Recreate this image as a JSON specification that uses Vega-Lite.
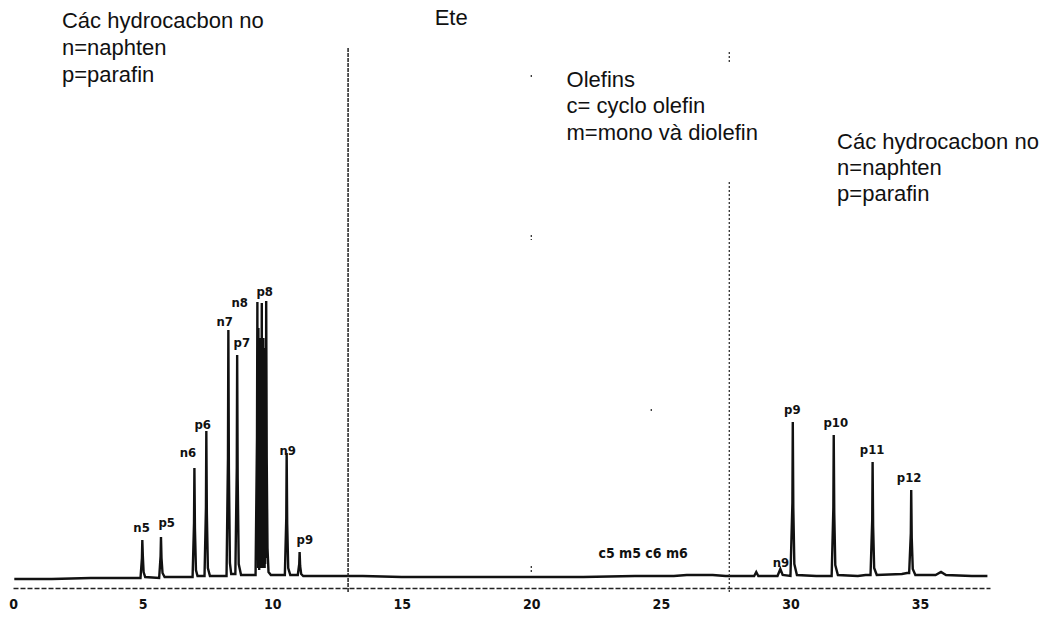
{
  "$schema": "https://vega.github.io/schema/vega-lite/v6.json",
  "autosize": "none",
  "width": 977,
  "height": 588,
  "padding": {"left": 13, "top": 0, "right": 70, "bottom": 30},
  "background": "white",
  "config": {"view": {"stroke": null}},
  "datasets": {
    "chroma": [
      {"t": 0.05, "s": -1}, {"t": 1.5, "s": -1}, {"t": 3.0, "s": 0}, {"t": 4.8, "s": 0},
      {"t": 4.92, "s": 0}, {"t": 4.975, "s": 20}, {"t": 4.99, "s": 38}, {"t": 5.01, "s": 22}, {"t": 5.04, "s": 6}, {"t": 5.1, "s": 1},
      {"t": 5.64, "s": 0}, {"t": 5.695, "s": 22}, {"t": 5.71, "s": 41}, {"t": 5.73, "s": 20}, {"t": 5.77, "s": 5}, {"t": 5.85, "s": 1},
      {"t": 6.5, "s": 1},
      {"t": 6.93, "s": 1}, {"t": 6.985, "s": 55}, {"t": 7.0, "s": 110}, {"t": 7.02, "s": 50}, {"t": 7.06, "s": 8}, {"t": 7.12, "s": 2},
      {"t": 7.39, "s": 2}, {"t": 7.445, "s": 70}, {"t": 7.46, "s": 147}, {"t": 7.48, "s": 65}, {"t": 7.52, "s": 10}, {"t": 7.6, "s": 2},
      {"t": 8.0, "s": 2},
      {"t": 8.24, "s": 2}, {"t": 8.295, "s": 120}, {"t": 8.31, "s": 248}, {"t": 8.33, "s": 110}, {"t": 8.37, "s": 15}, {"t": 8.42, "s": 4},
      {"t": 8.58, "s": 4}, {"t": 8.635, "s": 110}, {"t": 8.65, "s": 223}, {"t": 8.67, "s": 100}, {"t": 8.71, "s": 14}, {"t": 8.8, "s": 3},
      {"t": 9.2, "s": 3},
      {"t": 9.36, "s": 3}, {"t": 9.415, "s": 140}, {"t": 9.43, "s": 276}, {"t": 9.44, "s": 20}, {"t": 9.45, "s": 230}, {"t": 9.46, "s": 10},
      {"t": 9.47, "s": 250}, {"t": 9.48, "s": 15}, {"t": 9.49, "s": 200}, {"t": 9.5, "s": 8}, {"t": 9.51, "s": 240}, {"t": 9.52, "s": 20},
      {"t": 9.53, "s": 190}, {"t": 9.54, "s": 10}, {"t": 9.55, "s": 230}, {"t": 9.56, "s": 15}, {"t": 9.57, "s": 210}, {"t": 9.58, "s": 12},
      {"t": 9.6, "s": 275}, {"t": 9.61, "s": 14}, {"t": 9.62, "s": 220}, {"t": 9.63, "s": 10}, {"t": 9.64, "s": 200}, {"t": 9.65, "s": 18},
      {"t": 9.66, "s": 240}, {"t": 9.67, "s": 12}, {"t": 9.68, "s": 210}, {"t": 9.69, "s": 15}, {"t": 9.7, "s": 190}, {"t": 9.71, "s": 10},
      {"t": 9.72, "s": 230}, {"t": 9.73, "s": 14}, {"t": 9.745, "s": 200}, {"t": 9.755, "s": 20},
      {"t": 9.77, "s": 277}, {"t": 9.79, "s": 120}, {"t": 9.82, "s": 30}, {"t": 9.86, "s": 6}, {"t": 9.95, "s": 3},
      {"t": 10.3, "s": 3},
      {"t": 10.49, "s": 3}, {"t": 10.545, "s": 60}, {"t": 10.56, "s": 125}, {"t": 10.58, "s": 55}, {"t": 10.62, "s": 10}, {"t": 10.7, "s": 3},
      {"t": 10.99, "s": 3}, {"t": 11.045, "s": 14}, {"t": 11.06, "s": 26}, {"t": 11.08, "s": 12}, {"t": 11.12, "s": 4}, {"t": 11.2, "s": 2},
      {"t": 12.0, "s": 2}, {"t": 13.5, "s": 2}, {"t": 15.0, "s": 1}, {"t": 18.0, "s": 1}, {"t": 20.0, "s": 1}, {"t": 22.0, "s": 1},
      {"t": 24.0, "s": 2}, {"t": 25.5, "s": 2}, {"t": 26.0, "s": 3}, {"t": 27.0, "s": 3}, {"t": 27.5, "s": 2}, {"t": 28.3, "s": 2},
      {"t": 28.6, "s": 2}, {"t": 28.68, "s": 6}, {"t": 28.76, "s": 2},
      {"t": 29.3, "s": 2},
      {"t": 29.5, "s": 2}, {"t": 29.61, "s": 9}, {"t": 29.7, "s": 3},
      {"t": 30.0, "s": 2}, {"t": 30.075, "s": 75}, {"t": 30.09, "s": 156}, {"t": 30.11, "s": 70}, {"t": 30.15, "s": 14}, {"t": 30.25, "s": 3},
      {"t": 31.0, "s": 2},
      {"t": 31.59, "s": 2}, {"t": 31.655, "s": 70}, {"t": 31.67, "s": 143}, {"t": 31.69, "s": 65}, {"t": 31.73, "s": 13}, {"t": 31.83, "s": 3},
      {"t": 32.6, "s": 2}, {"t": 32.9, "s": 3},
      {"t": 33.09, "s": 3}, {"t": 33.155, "s": 58}, {"t": 33.17, "s": 116}, {"t": 33.19, "s": 52}, {"t": 33.23, "s": 10}, {"t": 33.33, "s": 3},
      {"t": 34.3, "s": 4}, {"t": 34.5, "s": 5},
      {"t": 34.58, "s": 5}, {"t": 34.645, "s": 45}, {"t": 34.66, "s": 88}, {"t": 34.68, "s": 40}, {"t": 34.72, "s": 9}, {"t": 34.82, "s": 3},
      {"t": 35.6, "s": 3}, {"t": 35.81, "s": 6}, {"t": 36.0, "s": 3}, {"t": 37.0, "s": 2}, {"t": 37.6, "s": 2}
    ],
    "peaks": [
      {"label": "n5", "t": 4.96, "s": 46},
      {"label": "p5", "t": 5.93, "s": 51},
      {"label": "n6", "t": 6.75, "s": 121},
      {"label": "p6", "t": 7.32, "s": 149},
      {"label": "n7", "t": 8.17, "s": 252},
      {"label": "p7", "t": 8.83, "s": 231},
      {"label": "n8", "t": 8.75, "s": 271},
      {"label": "p8", "t": 9.71, "s": 282},
      {"label": "n9", "t": 10.6, "s": 123},
      {"label": "p9", "t": 11.26, "s": 34},
      {"label": "n9", "t": 29.63, "s": 11},
      {"label": "p9", "t": 30.07, "s": 164},
      {"label": "p10", "t": 31.75, "s": 151},
      {"label": "p11", "t": 33.15, "s": 124},
      {"label": "p12", "t": 34.58, "s": 96}
    ],
    "notes": [
      {"text": "Các hydrocacbon no", "t": 1.89, "s": 550},
      {"text": "n=naphten", "t": 1.89, "s": 523},
      {"text": "p=parafin", "t": 1.89, "s": 496},
      {"text": "Ete", "t": 16.27, "s": 553},
      {"text": "Olefins", "t": 21.36, "s": 491},
      {"text": "c= cyclo olefin", "t": 21.36, "s": 465},
      {"text": "m=mono và diolefin", "t": 21.36, "s": 438},
      {"text": "Các hydrocacbon no", "t": 31.8, "s": 429},
      {"text": "n=naphten", "t": 31.8, "s": 403},
      {"text": "p=parafin", "t": 31.8, "s": 377}
    ],
    "solidRules": [
      {"t": 12.93, "s": 530, "s2": -14}
    ],
    "dashRules": [
      {"t": 27.64, "s": 396, "s2": -14},
      {"t": 27.64, "s": 526, "s2": 515},
      {"t": 20.0, "s": 503, "s2": 500},
      {"t": 20.0, "s": 343, "s2": 338},
      {"t": 20.0, "s": 12, "s2": 5},
      {"t": 24.63, "s": 169, "s2": 167}
    ]
  },
  "layer": [
    {
      "data": {"name": "chroma"},
      "mark": {"type": "line", "color": "#111111", "strokeWidth": 2.4, "interpolate": "linear"},
      "encoding": {
        "x": {
          "field": "t", "type": "quantitative",
          "scale": {"domain": [0, 37.7], "nice": false, "zero": false},
          "axis": {
            "title": null, "values": [0, 5, 10, 15, 20, 25, 30, 35], "grid": false, "ticks": false,
            "labelFlush": false, "labelFont": "DejaVu Sans Condensed", "labelFontSize": 14, "labelFontWeight": "bold", "labelColor": "#111111",
            "labelPadding": 9, "domainColor": "#222222", "domainWidth": 1.5, "domainDash": [5, 2]
          }
        },
        "y": {
          "field": "s", "type": "quantitative",
          "scale": {"domain": [-10, 578], "nice": false, "zero": false},
          "axis": null
        }
      }
    },
    {
      "data": {"name": "solidRules"},
      "mark": {"type": "rule", "color": "#222222", "strokeWidth": 1.5, "strokeDash": [4, 1]},
      "encoding": {
        "x": {"field": "t", "type": "quantitative"},
        "y": {"field": "s", "type": "quantitative"},
        "y2": {"field": "s2"}
      }
    },
    {
      "data": {"name": "dashRules"},
      "mark": {"type": "rule", "color": "#333333", "strokeWidth": 1.3, "strokeDash": [2, 2]},
      "encoding": {
        "x": {"field": "t", "type": "quantitative"},
        "y": {"field": "s", "type": "quantitative"},
        "y2": {"field": "s2"}
      }
    },
    {
      "data": {"name": "peaks"},
      "mark": {"type": "text", "font": "DejaVu Sans Condensed", "fontSize": 13, "fontWeight": "bold", "align": "center", "baseline": "alphabetic", "color": "#111111"},
      "encoding": {
        "x": {"field": "t", "type": "quantitative"},
        "y": {"field": "s", "type": "quantitative"},
        "text": {"field": "label"}
      }
    },
    {
      "data": {"values": [{"text": "c5 m5 c6 m6", "t": 22.59, "s": 20}]},
      "mark": {"type": "text", "font": "DejaVu Sans Condensed", "fontSize": 14, "fontWeight": "bold", "align": "left", "baseline": "alphabetic", "color": "#111111"},
      "encoding": {
        "x": {"field": "t", "type": "quantitative"},
        "y": {"field": "s", "type": "quantitative"},
        "text": {"field": "text"}
      }
    },
    {
      "data": {"name": "notes"},
      "mark": {"type": "text", "font": "Liberation Sans", "fontSize": 22, "align": "left", "baseline": "alphabetic", "color": "#111111"},
      "encoding": {
        "x": {"field": "t", "type": "quantitative"},
        "y": {"field": "s", "type": "quantitative"},
        "text": {"field": "text"}
      }
    }
  ]
}
